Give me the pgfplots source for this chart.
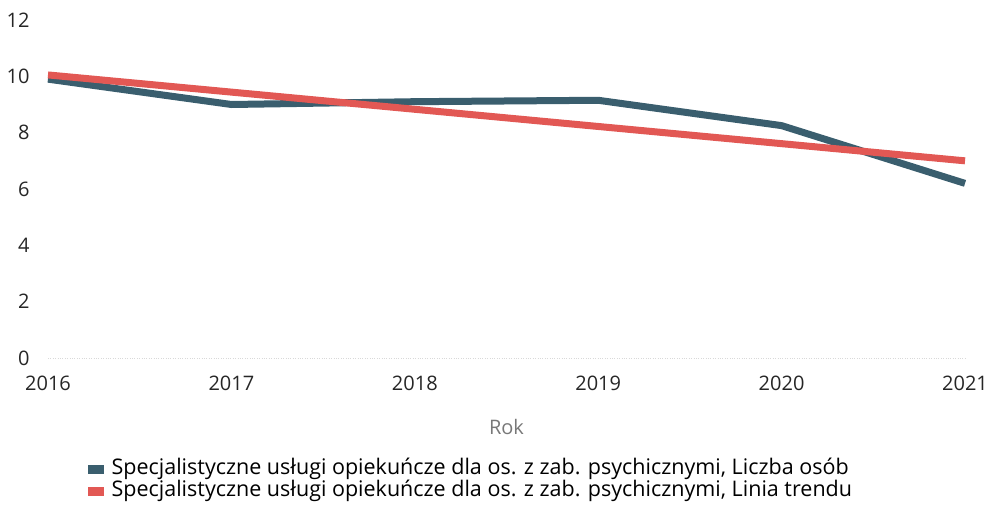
\documentclass[border=0pt]{standalone}
\usepackage{fontspec}
\setmainfont{Open Sans}
\usepackage{pgfplots}
\pgfplotsset{compat=1.18}
\definecolor{serblue}{RGB}{58,94,110}
\definecolor{serred}{RGB}{226,88,84}
\definecolor{labgray}{RGB}{120,120,120}
\begin{document}
\begin{tikzpicture}
\begin{axis}[
  at={(0,0)}, anchor=south west,
  scale only axis, width=917pt, height=338pt,
  xmin=2016, xmax=2021, ymin=0, ymax=12,
  axis line style={draw=none},
  clip=false,
  xtick={2016,2017,2018,2019,2020,2021},
  ytick={0,2,4,6,8,10,12},
  major tick length=0pt,
  tick style={draw=none},
  /pgf/number format/1000 sep={},
  /pgf/number format/assume math mode=true,
  tick label style={font=\fontsize{20}{24}\selectfont, text=black!85},
  xticklabel style={anchor=base, yshift=-32pt},
  yticklabel style={anchor=base east, xshift=-15pt, yshift=-7pt},
  extra y ticks={0},
  extra y tick labels={},
  extra y tick style={grid=major, grid style={draw=gray!30, dotted, line width=1pt}},
  xlabel={Rok},
  xlabel style={at={(axis description cs:0.5,-0.205)}, anchor=center, font=\fontsize{20}{24}\selectfont, text=labgray},
  legend style={at={(axis description cs:0.043,-0.3)}, anchor=north west, draw=none, fill=none,
    font=\fontsize{21.5}{22}\selectfont, row sep=2pt, inner sep=0pt,
    nodes={text height=15pt, text depth=5pt, inner sep=0pt, outer sep=0pt}},
  legend cell align=left,
  legend image code/.code={\path[fill=#1, draw=none] (0pt,-4.5pt) rectangle (16pt,4.5pt);},
]
\addplot[color=serblue, line width=7pt, line join=round] coordinates {
  (2016,9.9) (2017,9.0) (2018,9.1) (2019,9.15) (2020,8.25) (2021,6.2)
};
\addlegendentry{\hspace{8pt}Specjalistyczne usługi opiekuńcze dla os. z zab. psychicznymi, Liczba osób}
\addplot[color=serred, line width=7pt] coordinates {
  (2016,10.05) (2017,9.44) (2018,8.83) (2019,8.22) (2020,7.61) (2021,7.0)
};
\addlegendentry{\hspace{8pt}Specjalistyczne usługi opiekuńcze dla os. z zab. psychicznymi, Linia trendu}
\end{axis}
\pgfresetboundingbox
\path (-48pt,-157pt) rectangle (944pt,358pt);
\end{tikzpicture}
\end{document}
